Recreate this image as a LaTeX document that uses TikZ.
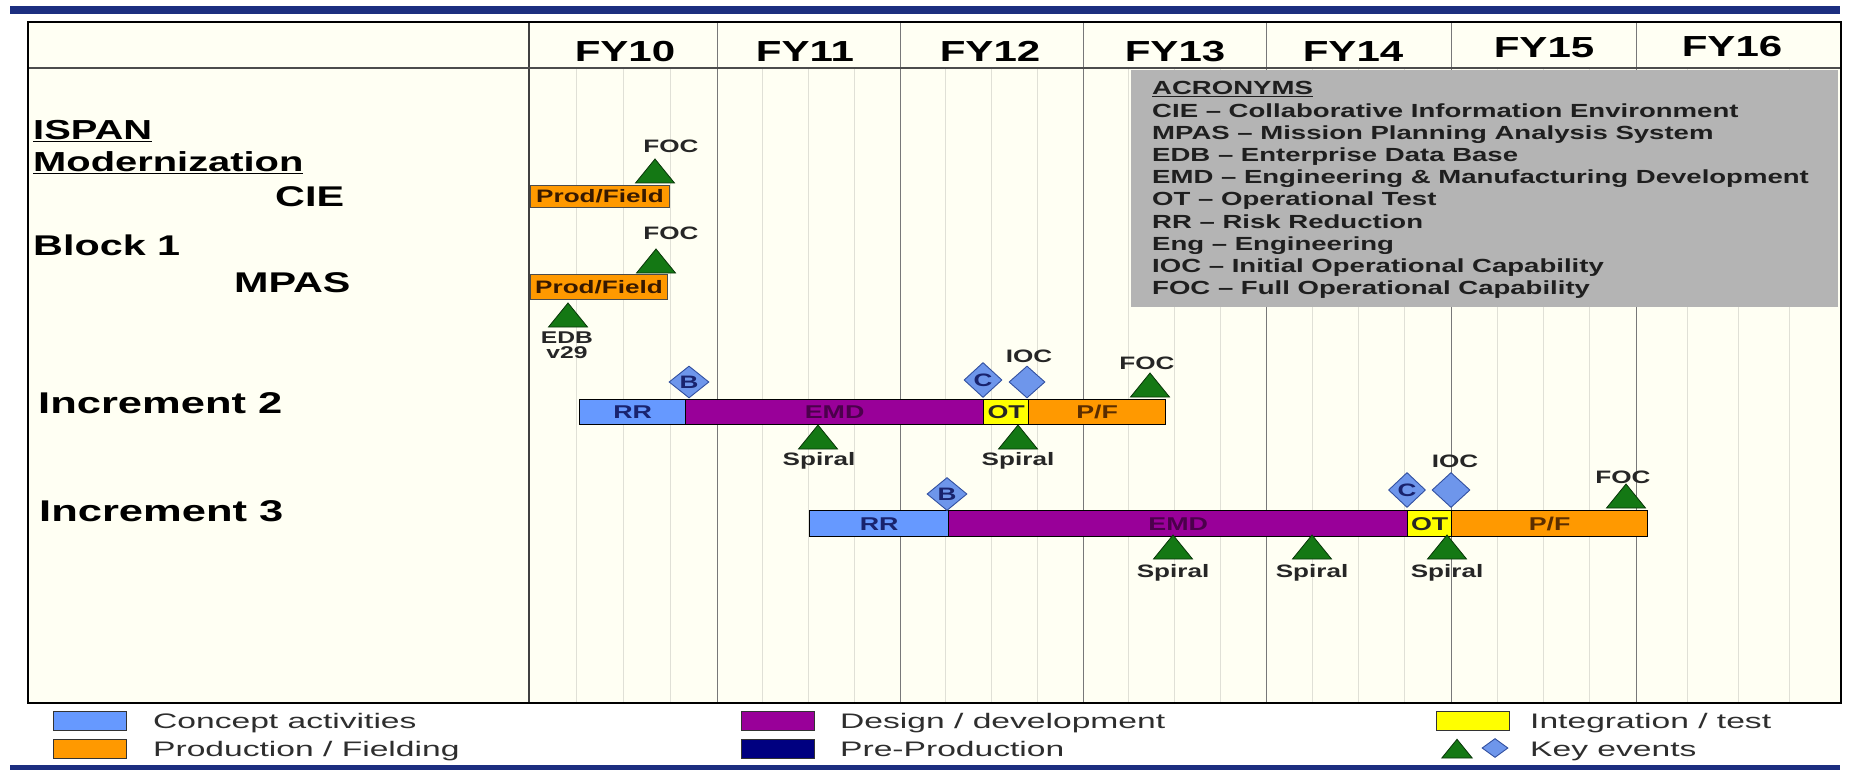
\documentclass[tikz,border=0pt]{standalone}
\usepackage{fontspec}
\setmainfont{Liberation Sans}[FakeStretch=1.45]
\newfontfamily\legfont{Liberation Sans}[FakeStretch=1.6]
\usetikzlibrary{shapes.geometric}
\definecolor{navybar}{RGB}{28,46,128}
\definecolor{cream}{RGB}{255,255,243}
\definecolor{rrc}{RGB}{102,153,255}
\definecolor{emdc}{RGB}{153,0,153}
\definecolor{otc}{RGB}{255,255,0}
\definecolor{pfc}{RGB}{255,153,0}
\definecolor{ppc}{RGB}{0,0,128}
\definecolor{acrc}{RGB}{180,180,180}
\definecolor{keyg}{RGB}{20,120,20}
\definecolor{keyd}{RGB}{110,150,235}
\definecolor{keydb}{RGB}{50,80,160}
\definecolor{yearline}{RGB}{120,120,120}
\definecolor{qline}{RGB}{224,224,214}
\definecolor{rrtxt}{RGB}{25,35,110}
\definecolor{emdtxt}{RGB}{75,0,75}
\definecolor{pftxt}{RGB}{90,45,0}
\definecolor{pftxt2}{RGB}{55,25,0}
\begin{document}
\begin{tikzpicture}[x=1pt,y=-1pt,
  lbl/.style={font=\bfseries\fontsize{28.5}{30}\selectfont, anchor=base west, inner sep=0pt},
  fy/.style={font=\bfseries\fontsize{29}{30}\selectfont, anchor=base, inner sep=0pt},
  acr/.style={font=\bfseries\fontsize{19}{20}\selectfont, anchor=base west, inner sep=0pt, text=black!88},
  bar/.style={draw=black, line width=1.3pt, anchor=north west, inner sep=0pt, font=\bfseries\fontsize{18.5}{19}\selectfont},
  pfbox/.style={draw=black!70, line width=1pt, fill=pfc, anchor=north west, inner sep=0pt, font=\bfseries\fontsize{18}{18}\selectfont, text=pftxt2},
  evl/.style={font=\bfseries\fontsize{18}{18}\selectfont, anchor=base, inner sep=0pt, text=black!85},
  kd/.style={shape=diamond, draw=keydb, fill=keyd, line width=0.9pt, inner sep=0pt, font=\bfseries\fontsize{18}{18}\selectfont, text=rrtxt},
  legbox/.style={draw=black!80, line width=1pt, minimum width=73pt, minimum height=19pt, inner sep=0pt, anchor=north west},
  legtxt/.style={font=\legfont\fontsize{21}{22}\selectfont, anchor=base west, inner sep=0pt, text=black!82},
  keytri/.pic={\draw[fill=keyg, draw=black!55!keyg, line width=0.8pt] (-19.5,0) -- (19.5,0) -- (0,-24) -- cycle;}
]
\useasboundingbox (0,0) rectangle (1849,770);
\fill[white] (0,0) rectangle (1849,770);
% top and bottom bands
\fill[navybar] (10,6) rectangle (1840,14);
\fill[navybar] (10,765) rectangle (1840,770);
% chart area
\fill[cream] (28,22) rectangle (1841,703);
\foreach \a/\b in {529/717,717/900,900/1083,1083/1266,1266/1451,1451/1636,1636/1841}
  \foreach \k in {1,2,3}
    \draw[qline, line width=1pt] ({\a+(\b-\a)*\k/4},68) -- ({\a+(\b-\a)*\k/4},703);
\foreach \x in {717,900,1083,1266,1451,1636}
  \draw[yearline, line width=1pt] (\x,22) -- (\x,703);
\draw[black!75, line width=1.5pt] (529,22) -- (529,703);
\draw[black!70, line width=1.5pt] (28,68) -- (1841,68);
% acronym box
\fill[acrc] (1131,70) rectangle (1838,307);
\draw[black, line width=2.5pt] (28,22) rectangle (1841,703);

% year headers
\node[fy] (fy10) at (625,62) {FY10};
\node[fy] (fy11) at (805,62) {FY11};
\node[fy] (fy12) at (990,62) {FY12};
\node[fy] (fy13) at (1175,62) {FY13};
\node[fy] (fy14) at (1353,62) {FY14};
\node[fy] (fy15) at (1544,58) {FY15};
\node[fy] (fy16) at (1732,57) {FY16};

% left labels
\node[lbl, font=\bfseries\fontsize{27.5}{30}\selectfont] (ispan) at (33,140) {\underline{ISPAN}};
\node[lbl, font=\bfseries\fontsize{27.5}{30}\selectfont] (modern) at (33,172) {\underline{Modernization}};
\node[lbl] (cie) at (275,207) {CIE};
\node[lbl] (block) at (33,255) {Block 1};
\node[lbl] (mpas) at (234,292) {MPAS};
\node[lbl, font=\bfseries\fontsize{30}{30}\selectfont] (inc2) at (38,413) {Increment 2};
\node[lbl, font=\bfseries\fontsize{30}{30}\selectfont] (inc3) at (39,521) {Increment 3};

% acronyms
\node[acr] (acr0) at (1152,95) {\underline{ACRONYMS}};
\node[acr] (acr1) at (1152,117.2) {CIE – Collaborative Information Environment};
\node[acr] (acr2) at (1152,139.4) {MPAS – Mission Planning Analysis System};
\node[acr] (acr3) at (1152,161.6) {EDB – Enterprise Data Base};
\node[acr] (acr4) at (1152,183.8) {EMD – Engineering \& Manufacturing Development};
\node[acr] (acr5) at (1152,206) {OT – Operational Test};
\node[acr] (acr6) at (1152,228.2) {RR – Risk Reduction};
\node[acr] (acr7) at (1152,250.4) {Eng – Engineering};
\node[acr] (acr8) at (1152,272.6) {IOC – Initial Operational Capability};
\node[acr] (acr9) at (1152,294.8) {FOC – Full Operational Capability};

% Block 1 rows
\node[pfbox, minimum width=139pt, minimum height=22pt] (ciepf) at (530,185) {Prod/Field};
\pic (ciefoc) at (655,183) {keytri};
\node[evl] (ciefocl) at (671,153) {FOC};
\node[pfbox, minimum width=137pt, minimum height=25pt] (mpaspf) at (530,274) {Prod/Field};
\pic (mpasfoc) at (656,273) {keytri};
\node[evl] (mpasfocl) at (671,240) {FOC};
\pic (edb) at (568,327) {keytri};
\node[evl, font=\bfseries\fontsize{17}{17}\selectfont] (edbl) at (567,343) {EDB};
\node[evl, font=\bfseries\fontsize{17}{17}\selectfont] (v29l) at (567,358) {v29};

% Increment 2
\node[bar, fill=rrc, text=rrtxt, minimum width=106pt, minimum height=25pt] (i2rr) at (579,399) {RR};
\node[bar, fill=emdc, text=emdtxt, minimum width=298pt, minimum height=25pt] (i2emd) at (685,399) {EMD};
\node[bar, fill=otc, text=black!85, minimum width=45pt, minimum height=25pt] (i2ot) at (983,399) {OT};
\node[bar, fill=pfc, text=pftxt, minimum width=137pt, minimum height=25pt] (i2pf) at (1028,399) {P/F};
\node[kd, minimum width=40pt, minimum height=32pt] (i2b) at (689,382) {B};
\node[kd, minimum width=38pt, minimum height=35pt] (i2c) at (983,380) {C};
\node[kd, minimum width=36pt, minimum height=32pt] (i2ioc) at (1027,382) {};
\node[evl] (i2iocl) at (1029,362) {IOC};
\pic (i2foc) at (1150,397) {keytri};
\node[evl] (i2focl) at (1147,369) {FOC};
\pic (i2s1) at (818,449) {keytri};
\node[evl] (i2s1l) at (819,465) {Spiral};
\pic (i2s2) at (1018,449) {keytri};
\node[evl] (i2s2l) at (1018,465) {Spiral};

% Increment 3
\node[bar, fill=rrc, text=rrtxt, minimum width=139pt, minimum height=26pt] (i3rr) at (809,510) {RR};
\node[bar, fill=emdc, text=emdtxt, minimum width=459pt, minimum height=26pt] (i3emd) at (948,510) {EMD};
\node[bar, fill=otc, text=black!85, minimum width=44pt, minimum height=26pt] (i3ot) at (1407,510) {OT};
\node[bar, fill=pfc, text=pftxt, minimum width=196pt, minimum height=26pt] (i3pf) at (1451,510) {P/F};
\node[kd, minimum width=40pt, minimum height=33pt] (i3b) at (947,494) {B};
\node[kd, minimum width=37pt, minimum height=35pt] (i3c) at (1407,490) {C};
\node[kd, minimum width=38pt, minimum height=35pt] (i3ioc) at (1451,490) {};
\node[evl] (i3iocl) at (1455,467) {IOC};
\pic (i3foc) at (1626,508) {keytri};
\node[evl] (i3focl) at (1623,483) {FOC};
\pic (i3s1) at (1173,559) {keytri};
\node[evl] (i3s1l) at (1173,577) {Spiral};
\pic (i3s2) at (1312,559) {keytri};
\node[evl] (i3s2l) at (1312,577) {Spiral};
\pic (i3s3) at (1447,559) {keytri};
\node[evl] (i3s3l) at (1447,577) {Spiral};

% legend
\node[legbox, fill=rrc] (lg1) at (53,711) {};
\node[legtxt] (lt1) at (153,728) {Concept activities};
\node[legbox, fill=pfc] (lg2) at (53,739) {};
\node[legtxt] (lt2) at (153,756) {Production / Fielding};
\node[legbox, fill=emdc] (lg3) at (741,711) {};
\node[legtxt] (lt3) at (840,728) {Design / development};
\node[legbox, fill=ppc] (lg4) at (741,739) {};
\node[legtxt] (lt4) at (840,756) {Pre-Production};
\node[legbox, fill=otc] (lg5) at (1436,711) {};
\node[legtxt] (lt5) at (1530,728) {Integration / test};
\pic[scale=0.78] (lgt) at (1457,758) {keytri};
\node[kd, minimum width=26pt, minimum height=19pt] (lgd) at (1495,748) {};
\node[legtxt] (lt6) at (1530,756) {Key events};
\end{tikzpicture}
\end{document}
